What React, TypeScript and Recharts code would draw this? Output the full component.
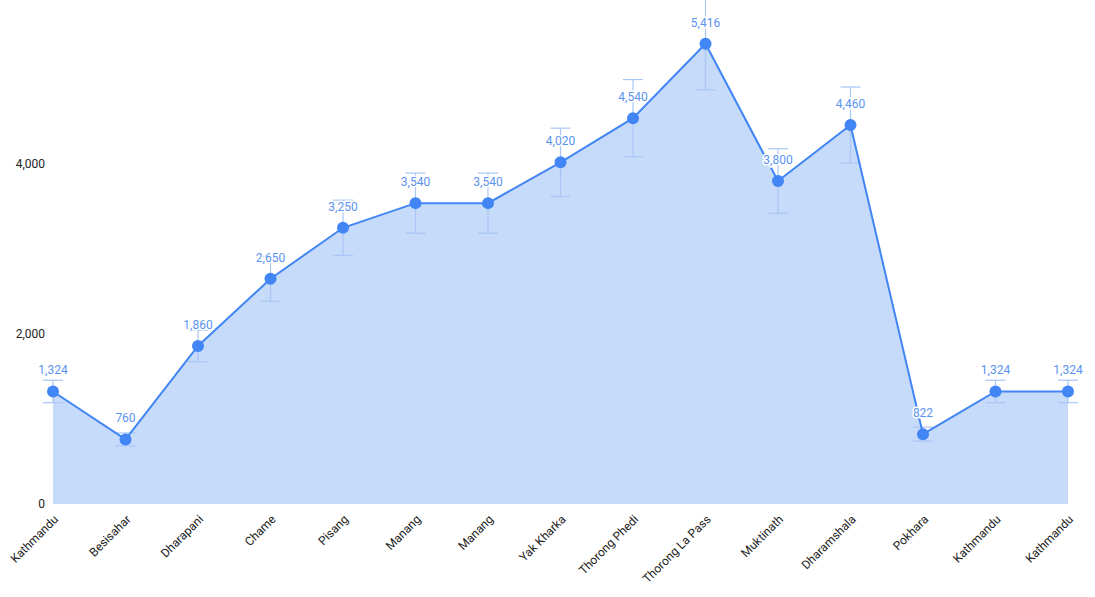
import { Area, ComposedChart, ErrorBar, LabelList, Line, XAxis, YAxis } from "recharts";

const stops = [
  "Kathmandu",
  "Besisahar",
  "Dharapani",
  "Chame",
  "Pisang",
  "Manang",
  "Manang",
  "Yak Kharka",
  "Thorong Phedi",
  "Thorong La Pass",
  "Muktinath",
  "Dharamshala",
  "Pokhara",
  "Kathmandu",
  "Kathmandu",
];

const altitude = [1324, 760, 1860, 2650, 3250, 3540, 3540, 4020, 4540, 5416, 3800, 4460, 822, 1324, 1324];

const altitudeError = [132, 76, 186, 265, 325, 354, 354, 402, 454, 542, 380, 446, 82, 132, 132];

const yTicks = [0, 2000, 4000];

const data = stops.map((stop, i) => ({
  stop,
  key: `${stop}-${i}`,
  altitude: altitude[i],
  err: altitudeError[i],
}));

const fmt = (v: number) => v.toLocaleString("en-US");

export default function App() {
  return (
    <div style={{ position: "absolute", left: 0, top: 0, fontFamily: "Roboto" }}>
      <ComposedChart width={1095} height={597} data={data} margin={{ top: 0, right: 27, bottom: 0, left: 8 }}>
        <XAxis
          dataKey="key"
          tickFormatter={(_v, i) => stops[i]}
          interval={0}
          angle={-45}
          textAnchor="end"
          height={93}
          tickLine={false}
          axisLine={false}
          tick={{ fontSize: 12, fill: "#222", dy: 2 }}
        />
        <YAxis
          domain={[0, 5930]}
          allowDataOverflow
          ticks={yTicks}
          width={45}
          tickLine={false}
          axisLine={false}
          tickFormatter={fmt}
          tick={{ fontSize: 12, fill: "#222" }}
        />
        <Area dataKey="altitude" stroke="none" fill="#c6daf9" fillOpacity={1} isAnimationActive={false} />
        <Line
          dataKey="altitude"
          stroke="#4285f4"
          strokeWidth={2}
          dot={{ r: 6, fill: "#4285f4", stroke: "none", clipDot: true }}
          activeDot={false}
          isAnimationActive={false}
        >
          <ErrorBar dataKey="err" width={10} stroke="#a9c6f7" strokeWidth={1.2} direction="y" />
          <LabelList
            dataKey="altitude"
            position="top"
            offset={17}
            formatter={fmt}
            style={{ fontSize: 12, fill: "#5b93f0", stroke: "#fff", strokeWidth: 3, paintOrder: "stroke" }}
          />
        </Line>
      </ComposedChart>
    </div>
  );
}
